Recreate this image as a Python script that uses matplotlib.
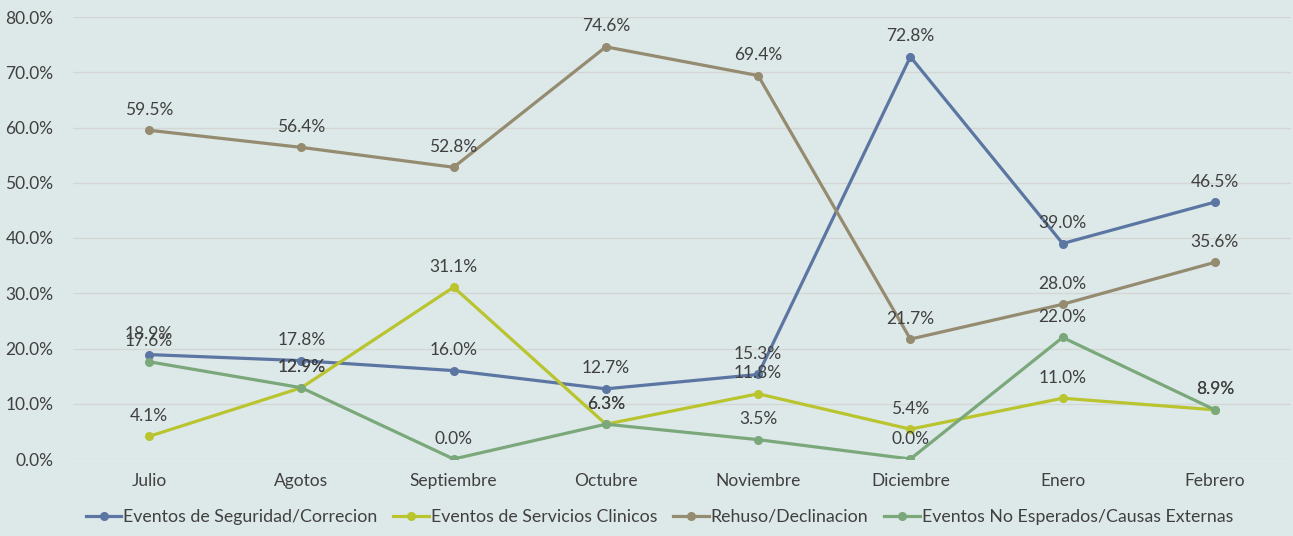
import matplotlib

matplotlib.use("Agg")
import matplotlib.pyplot as plt

MONTHS = ["Julio", "Agotos", "Septiembre", "Octubre", "Noviembre", "Diciembre", "Enero", "Febrero"]

SEGURIDAD = [18.9, 17.8, 16.0, 12.7, 15.3, 72.8, 39.0, 46.5]
SERVICIOS = [4.1, 12.9, 31.1, 6.3, 11.8, 5.4, 11.0, 8.9]
REHUSO = [59.5, 56.4, 52.8, 74.6, 69.4, 21.7, 28.0, 35.6]
NO_ESPERADOS = [17.6, 12.9, 0.0, 6.3, 3.5, 0.0, 22.0, 8.9]

SERIES = [
    ("Eventos de Seguridad/Correcion", SEGURIDAD, "#5b76a2"),
    ("Eventos de Servicios Clinicos", SERVICIOS, "#b9c42f"),
    ("Rehuso/Declinacion", REHUSO, "#958b70"),
    ("Eventos No Esperados/Causas Externas", NO_ESPERADOS, "#7aa87b"),
]

BG = "#dde9e8"
TEXT = "#404040"
GRID = "#d4d6d6"

plt.rcParams["font.family"] = ["Lato", "DejaVu Sans"]

fig = plt.figure(figsize=(12.93, 5.36), dpi=100, facecolor=BG)
ax = fig.add_axes([73 / 1293, 1 - 459 / 536, (1291 - 73) / 1293, (459 - 17) / 536])
ax.set_facecolor(BG)

x = list(range(len(MONTHS)))
for label, values, color in SERIES:
    ax.plot(x, values, color=color, linewidth=2.3, marker="o", markersize=5.5,
            label=label, zorder=3)
    for xi, v in zip(x, values):
        ax.annotate(f"{v:.1f}%", (xi, v), xytext=(0, 9), textcoords="offset points",
                    ha="center", va="bottom", fontsize=12.5, color=TEXT, zorder=4)

ax.set_xlim(-0.5, len(MONTHS) - 0.5)
ax.set_ylim(0, 80)
ax.set_yticks(range(0, 81, 10))
ax.set_yticklabels([f"{t:.1f}%" for t in range(0, 81, 10)])
ax.set_xticks(x)
ax.set_xticklabels(MONTHS)
ax.tick_params(axis="both", length=0, labelsize=12.5, colors=TEXT)
ax.tick_params(axis="x", pad=10)
ax.tick_params(axis="y", pad=14)
ax.grid(axis="y", color=GRID, linewidth=1.0, zorder=0)
for spine in ax.spines.values():
    spine.set_visible(False)

fig.legend(loc="center", bbox_to_anchor=(0.51, 1 - 517 / 536), ncol=4, frameon=False,
           fontsize=12.8, labelcolor=TEXT, handlelength=2.0, handletextpad=0.1,
           columnspacing=0.9)

fig.savefig("out.png", dpi=100, facecolor=BG)
